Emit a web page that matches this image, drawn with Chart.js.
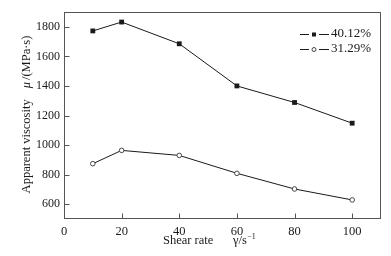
<!DOCTYPE html>
<html>
<head>
<meta charset="utf-8">
<script src="https://cdn.jsdelivr.net/npm/chart.js@4/dist/chart.umd.min.js"></script>
<style>
  html, body { margin: 0; padding: 0; background: #fff; }
  #wrap { width: 391px; height: 256px; position: relative; }
</style>
</head>
<body>
<div id="wrap"><canvas id="chart" width="391" height="256"></canvas></div>
<script>
  var shearRates = [10, 20, 40, 60, 80, 100];
  var visc4012 = [1772, 1832, 1685, 1400, 1288, 1148];
  var visc3129 = [874, 964, 930, 809, 703, 629];
  var seriesNames = ['40.12%', '31.29%'];
  var xTicks = [0, 20, 40, 60, 80, 100];
  var yTicks = [600, 800, 1000, 1200, 1400, 1600, 1800];

  var serif = "'Liberation Serif', 'Times New Roman', Times, serif";
  var ink = '#1a1a1a';
  var frame = '#555';

  function toPoints(xs, ys) {
    return xs.map(function(x, i) { return { x: x, y: ys[i] }; });
  }

  // frame, inward ticks, axis titles and legend
  var decorPlugin = {
    id: 'decor',
    afterDraw: function(chart) {
      var ctx = chart.ctx;
      var a = chart.chartArea;
      var L = Math.round(a.left) + 0.5, R = Math.round(a.right) - 0.5;
      var T = Math.round(a.top) + 0.5, B = Math.round(a.bottom) - 0.5;
      ctx.save();
      ctx.strokeStyle = frame;
      ctx.lineWidth = 1;
      ctx.strokeRect(L, T, R - L, B - T);

      ctx.beginPath();
      xTicks.forEach(function(v) {
        var px = Math.round(chart.scales.x.getPixelForValue(v)) + 0.5;
        ctx.moveTo(px, B); ctx.lineTo(px, B - 5);
      });
      yTicks.forEach(function(v) {
        var py = Math.round(chart.scales.y.getPixelForValue(v)) + 0.5;
        ctx.moveTo(L, py); ctx.lineTo(L + 5, py);
      });
      ctx.stroke();

      ctx.fillStyle = ink;
      ctx.textBaseline = 'middle';

      // x title
      ctx.font = '12.5px ' + serif;
      ctx.textAlign = 'left';
      ctx.fillText('Shear rate', 163, 241);
      var gs = '\u03b3/s';
      ctx.fillText(gs, 233, 241);
      var gw = ctx.measureText(gs).width;
      ctx.font = '8px ' + serif;
      ctx.fillText('\u22121', 233 + gw + 0.5, 236.5);

      // y title
      ctx.save();
      ctx.translate(27, 114.5);
      ctx.rotate(-Math.PI / 2);
      ctx.textAlign = 'left';
      ctx.font = '12.5px ' + serif;
      var t1 = 'Apparent viscosity';
      var w1 = ctx.measureText(t1).width;
      ctx.font = 'italic 12.5px ' + serif;
      var t2 = '\u03bc';
      var w2 = ctx.measureText(t2).width;
      ctx.font = '12.5px ' + serif;
      var t3 = '/(MPa\u00b7s)';
      var w3 = ctx.measureText(t3).width;
      var gap = 11;
      var total = w1 + gap + w2 + 2 + w3;
      var x0 = -total / 2;
      ctx.fillText(t1, x0, 0);
      ctx.font = 'italic 12.5px ' + serif;
      ctx.fillText(t2, x0 + w1 + gap, 0);
      ctx.font = '12.5px ' + serif;
      ctx.fillText(t3, x0 + w1 + gap + w2 + 2, 0);
      ctx.restore();

      // legend
      ctx.font = '13px ' + serif;
      ctx.textAlign = 'left';
      var rows = [33.5, 49];
      chart.data.datasets.forEach(function(ds, i) {
        var y = rows[i];
        ctx.strokeStyle = ink;
        ctx.lineWidth = 1;
        ctx.beginPath();
        ctx.moveTo(300, Math.round(y) + 0.5); ctx.lineTo(309, Math.round(y) + 0.5);
        ctx.moveTo(319, Math.round(y) + 0.5); ctx.lineTo(329, Math.round(y) + 0.5);
        ctx.stroke();
        if (ds.pointStyle === 'rect') {
          ctx.fillStyle = ink;
          ctx.fillRect(312, Math.round(y) - 1.5, 4, 4);
        } else {
          ctx.beginPath();
          ctx.arc(314, Math.round(y) + 0.5, 2, 0, Math.PI * 2);
          ctx.fillStyle = '#fff';
          ctx.fill();
          ctx.strokeStyle = '#444';
          ctx.stroke();
        }
        ctx.fillStyle = ink;
        ctx.fillText(ds.label, 331, y);
      });
      ctx.restore();
    }
  };

  function plain(v) { return String(v); }

  new Chart(document.getElementById('chart'), {
    type: 'line',
    data: {
      datasets: [{
        label: seriesNames[0],
        data: toPoints(shearRates, visc4012),
        borderColor: ink,
        borderWidth: 1,
        backgroundColor: ink,
        pointStyle: 'rect',
        pointRadius: 3.4,
        pointBorderWidth: 0,
        pointBackgroundColor: ink,
        tension: 0
      }, {
        label: seriesNames[1],
        data: toPoints(shearRates, visc3129),
        borderColor: ink,
        borderWidth: 1,
        pointStyle: 'circle',
        pointRadius: 2.3,
        pointBorderWidth: 1,
        pointBorderColor: '#444',
        pointBackgroundColor: '#fff',
        tension: 0
      }]
    },
    options: {
      responsive: false,
      animation: false,
      layout: { padding: { left: 0, right: 10, top: 12, bottom: 0 } },
      plugins: { legend: { display: false }, tooltip: { enabled: false } },
      scales: {
        x: {
          type: 'linear',
          min: 0,
          max: 110,
          afterBuildTicks: function(s) { s.ticks = xTicks.map(function(v) { return { value: v }; }); },
          afterFit: function(s) { s.height = 37; },
          grid: { display: false, drawTicks: false },
          border: { display: false },
          ticks: { color: ink, padding: 5, callback: plain, font: { family: serif, size: 12.5 } }
        },
        y: {
          min: 500,
          max: 1900,
          afterBuildTicks: function(s) { s.ticks = yTicks.map(function(v) { return { value: v }; }); },
          afterFit: function(s) { s.width = 64; },
          grid: { display: false, drawTicks: false },
          border: { display: false },
          ticks: { color: ink, padding: 4, callback: plain, font: { family: serif, size: 12 } }
        }
      }
    },
    plugins: [decorPlugin]
  });
</script>
</body>
</html>
